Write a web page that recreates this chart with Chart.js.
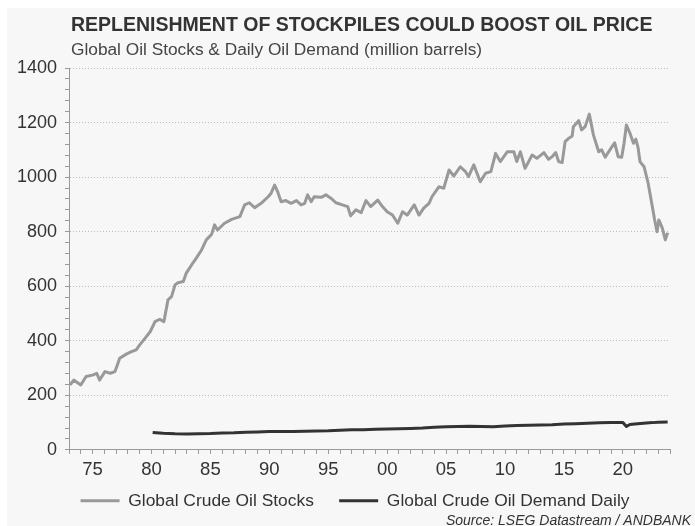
<!DOCTYPE html>
<html lang="en">
<head>
    <meta charset="UTF-8">
    <title>Replenishment of stockpiles could boost oil price</title>
    <script src="https://cdn.jsdelivr.net/npm/chart.js"></script>
    <style>
        html, body { margin: 0; padding: 0; background: #fff; }
        #wrap { width: 695px; height: 526px; }
    </style>
</head>
<body>
<div id="wrap"><canvas id="oilChart" width="695" height="526"></canvas></div>

<script>
// Global crude oil stocks (million barrels)
const stockYears = [
    1973.1, 1973.4, 1974.0, 1974.45, 1975.07, 1975.35, 1975.6, 1976.05, 1976.5, 1976.9,
    1977.05, 1977.3, 1977.9, 1978.3, 1978.7, 1979.0, 1979.45, 1979.9, 1980.3, 1980.7,
    1981.05, 1981.4, 1981.7, 1982.0, 1982.25, 1982.7, 1982.95, 1983.4, 1983.8, 1984.25,
    1984.65, 1985.1, 1985.35, 1985.6, 1986.2, 1986.8, 1987.5, 1987.9, 1988.3, 1988.75,
    1989.3, 1989.9, 1990.15, 1990.45, 1990.7, 1991.0, 1991.4, 1991.85, 1992.3, 1992.7,
    1993.0, 1993.25, 1993.55, 1993.8, 1994.4, 1994.8, 1995.25, 1995.65, 1996.2, 1996.65,
    1996.9, 1997.35, 1997.8, 1998.2, 1998.6, 1999.2, 1999.6, 2000.0, 2000.45, 2000.9,
    2001.3, 2001.7, 2002.3, 2002.7, 2003.1, 2003.55, 2003.8, 2004.4, 2004.8, 2005.25,
    2005.65, 2006.2, 2006.65, 2006.9, 2007.35, 2007.9, 2008.35, 2008.8, 2009.2, 2009.6,
    2010.2, 2010.75, 2011.0, 2011.3, 2011.7, 2012.3, 2012.7, 2013.3, 2013.7, 2014.0,
    2014.3, 2014.55, 2014.85, 2015.1, 2015.4, 2015.7, 2015.8, 2016.25, 2016.5, 2016.8,
    2017.15, 2017.5, 2017.95, 2018.2, 2018.5, 2018.9, 2019.3, 2019.6, 2019.9, 2020.1,
    2020.3, 2020.6, 2020.9, 2021.1, 2021.3, 2021.45, 2021.8, 2022.15, 2022.4, 2022.7,
    2022.9, 2023.05, 2023.35, 2023.6, 2023.8
];
const stockValues = [
    238, 256, 238, 269, 275, 281, 256, 287, 281, 287,
    305, 336, 352, 360, 367, 385, 409, 434, 470, 479,
    470, 550, 562, 605, 613, 617, 648, 678, 703, 733,
    770, 790, 825, 806, 831, 845, 855, 898, 906, 888,
    904, 928, 941, 971, 947, 910, 914, 904, 914, 898,
    904, 935, 910, 928, 926, 935, 922, 906, 898, 892,
    858, 880, 870, 914, 892, 916, 892, 873, 861, 831,
    873, 861, 898, 861, 886, 904, 928, 965, 959, 1026,
    1004, 1038, 1020, 1002, 1045, 983, 1014, 1020, 1087, 1057,
    1093, 1093, 1057, 1093, 1032, 1081, 1069, 1090, 1065, 1075,
    1090, 1057, 1053, 1130, 1142, 1151, 1185, 1207, 1173, 1185,
    1231, 1155, 1093, 1100, 1073, 1100, 1126, 1075, 1073, 1124,
    1191, 1161, 1124, 1139, 1106, 1057, 1038, 977, 916, 843,
    800, 843, 813, 770, 796
];

// Global crude oil demand daily (million barrels)
const demandYears = [
    1980.1, 1981, 1982, 1983, 1984, 1985, 1986, 1987, 1988, 1989,
    1990, 1991, 1992, 1993, 1994, 1995, 1996, 1997, 1998, 1999,
    2000, 2001, 2002, 2003, 2004, 2005, 2006, 2007, 2008, 2009,
    2010, 2011, 2012, 2013, 2014, 2015, 2016, 2017, 2018, 2019,
    2020.0, 2020.3, 2020.6, 2021, 2021.5, 2022, 2022.5, 2023, 2023.8
];
const demandValues = [
    64, 61, 59, 58, 59, 60, 62, 63, 65, 66,
    67, 67, 67.5, 68, 69, 70, 72, 73.5, 74, 75.5,
    77, 77.5, 78.5, 80, 83, 84.5, 85.5, 86.5, 86, 85,
    88, 89, 90, 91.5, 92.5, 94.5, 96, 98, 99.5, 100.5,
    100.5, 86, 93, 95, 97, 99, 100, 101.5, 102.5
];

const seriesNames = ["Global Crude Oil Stocks", "Global Crude Oil Demand Daily"];
const seriesColors = ["#999999", "#333333"];

// axis settings
const xMin = 1973, xMax = 2024;
const yMin = 0, yMax = 1400, yMajor = 200, yMinor = 40;

const titleText = "REPLENISHMENT OF STOCKPILES COULD BOOST OIL PRICE";
const subtitleText = "Global Oil Stocks & Daily Oil Demand (million barrels)";
const sourceText = "Source: LSEG Datastream / ANDBANK";

const FONT = "'Liberation Sans', Arial, sans-serif";

function toPoints(xs, ys) {
    return xs.map((x, i) => ({ x: x, y: ys[i] }));
}

// panel background + title, subtitle and source
const decoration = {
    id: 'decoration',
    beforeDraw(chart) {
        const ctx = chart.ctx;
        ctx.save();
        ctx.fillStyle = '#ffffff';
        ctx.fillRect(0, 0, chart.width, chart.height);
        ctx.fillStyle = '#f7f7f7';
        ctx.fillRect(7, 8, chart.width - 7, chart.height - 8);
        ctx.restore();
    },
    afterDraw(chart) {
        const ctx = chart.ctx;
        ctx.save();
        ctx.textBaseline = 'alphabetic';
        ctx.textAlign = 'left';
        ctx.fillStyle = '#333333';
        ctx.font = "bold 19.5px " + FONT;
        ctx.fillText(titleText, 71, 31);
        ctx.fillStyle = '#444444';
        ctx.font = "17.3px " + FONT;
        ctx.fillText(subtitleText, 71, 55);
        ctx.textAlign = 'right';
        ctx.fillStyle = '#333333';
        ctx.font = "italic 14px " + FONT;
        ctx.fillText(sourceText, 691, 525);
        ctx.restore();
    }
};

const chart = new Chart(document.getElementById("oilChart"), {
    type: 'line',
    data: {
        datasets: [
            {
                label: seriesNames[0],
                data: toPoints(stockYears, stockValues),
                borderColor: seriesColors[0],
                backgroundColor: seriesColors[0],
                borderWidth: 3,
                pointRadius: 0,
                tension: 0,
                borderJoinStyle: 'round'
            },
            {
                label: seriesNames[1],
                data: toPoints(demandYears, demandValues),
                borderColor: seriesColors[1],
                backgroundColor: seriesColors[1],
                borderWidth: 3,
                pointRadius: 0,
                tension: 0,
                borderJoinStyle: 'round'
            }
        ]
    },
    options: {
        responsive: false,
        animation: false,
        devicePixelRatio: 1,
        layout: {
            padding: { top: 68, left: 16, right: 25, bottom: 6.5 }
        },
        plugins: {
            title: { display: false },
            tooltip: { enabled: false },
            legend: {
                position: 'bottom',
                fullSize: false,
                labels: {
                    color: '#333333',
                    font: { family: FONT, size: 17.4 },
                    boxWidth: 39,
                    boxHeight: 3,
                    padding: 6,
                    generateLabels(c) {
                        const items = Chart.defaults.plugins.legend.labels.generateLabels(c);
                        items.forEach((it, i) => {
                            it.lineWidth = 0;
                            it.fillStyle = seriesColors[i];
                            // spacing so the entries sit where the original has them
                            if (i === 0) it.text = it.text + "    ";
                            if (i === 1) it.text = it.text + "      ";
                        });
                        return items;
                    }
                }
            }
        },
        scales: {
            x: {
                type: 'linear',
                min: xMin,
                max: xMax,
                border: { display: true, color: '#999999', width: 1 },
                grid: {
                    drawOnChartArea: false,
                    drawTicks: true,
                    tickLength: 4,
                    tickColor: '#999999'
                },
                ticks: {
                    stepSize: 1,
                    autoSkip: false,
                    maxRotation: 0,
                    padding: 5,
                    color: '#333333',
                    font: { family: FONT, size: 18.5 },
                    callback: v => (v % 5 === 0 ? String(v % 100).padStart(2, '0') : '')
                }
            },
            y: {
                min: yMin,
                max: yMax,
                afterFit(scale) { scale.width = 53; },
                border: { display: true, color: '#999999', width: 1, dash: [1, 2] },
                grid: {
                    color: ctx => (ctx.tick && ctx.tick.value % yMajor === 0 && ctx.tick.value > 0) ? '#bdbdbd' : 'rgba(0,0,0,0)',
                    tickColor: '#999999',
                    tickLength: 4,
                    tickBorderDash: []
                },
                ticks: {
                    stepSize: yMinor,
                    autoSkip: false,
                    padding: 8,
                    color: '#333333',
                    font: { family: FONT, size: 18 },
                    callback: v => (v % yMajor === 0 ? v : '')
                }
            }
        }
    },
    plugins: [decoration]
});
</script>
</body>
</html>
